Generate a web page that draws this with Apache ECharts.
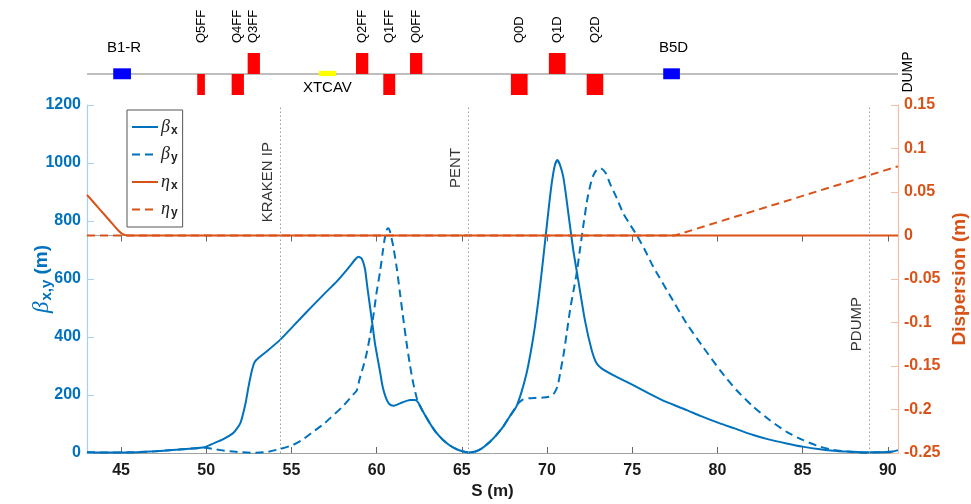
<!DOCTYPE html>
<html>
<head>
<meta charset="utf-8">
<script src="https://cdn.jsdelivr.net/npm/echarts@6/dist/echarts.min.js"></script>
<style>
  html, body { margin: 0; padding: 0; background: #fff; }
  #chart { width: 971px; height: 504px; }
</style>
</head>
<body>
<div id="chart"></div>
<script>
// Beamline coordinate range (m) and tick positions
const S_MIN = 43, S_MAX = 90.6;
const sTicks = [45, 50, 55, 60, 65, 70, 75, 80, 85, 90];

// Horizontal beta function
const betaXS = [43, 44, 45, 46, 47, 48, 49, 49.9, 50.5, 51.0, 51.6, 52.0, 52.3, 52.5, 52.7, 52.85, 53.05, 53.5, 54.33, 55.5, 56.28, 57.0, 57.65, 58.3, 58.75, 58.92, 59.12, 59.31, 59.45, 59.61, 59.77, 59.9, 60.04, 60.2, 60.35, 60.55, 60.74, 60.98, 61.37, 61.96, 62.25, 62.44, 62.7, 63.13, 63.5, 63.9, 64.3, 64.7, 65.1, 65.4, 65.8, 66.2, 66.65, 67.0, 67.43, 67.8, 68.2, 68.5, 68.8, 69.05, 69.29, 69.5, 69.68, 69.85, 69.98, 70.15, 70.3, 70.45, 70.6, 70.75, 70.95, 71.1, 71.25, 71.54, 71.83, 72.22, 72.62, 72.9, 73.2, 74.0, 75.0, 76.0, 77.0, 78.2, 79.0, 80.15, 81.0, 82.1, 83.0, 84.06, 85.0, 86.02, 87.0, 87.6, 88.5, 89.5, 90.2, 90.6];
const betaXV = [3, 2, 2, 3, 6, 10, 15, 20, 35, 48, 70, 103, 170, 235, 290, 315, 327, 348, 390, 462, 510, 553, 591, 635, 668, 677, 671, 637, 574, 505, 436, 378, 332, 280, 229, 189, 169, 163, 171, 183, 183, 174, 145, 102, 70, 45, 26, 13, 5, 2, 5, 17, 39, 60, 91, 125, 160, 210, 275, 350, 436, 530, 620, 710, 780, 870, 940, 990, 1010, 995, 953, 895, 827, 700, 597, 459, 355, 310, 292, 265, 236, 205, 176, 148, 128, 102, 85, 62, 47, 33, 22, 13, 7, 5, 3, 3, 4, 10];

// Vertical beta function
const betaYS = [43, 44, 45, 46, 47, 48, 49, 49.9, 50.5, 51.2, 52.0, 52.8, 53.5, 54.33, 55.1, 55.7, 56.28, 56.9, 57.3, 58.0, 58.6, 58.83, 59.0, 59.2, 59.4, 59.6, 59.8, 60.0, 60.2, 60.35, 60.49, 60.6, 60.68, 60.8, 60.98, 61.2, 61.37, 61.56, 61.76, 61.95, 62.15, 62.38, 62.44, 62.7, 63.13, 63.5, 63.9, 64.3, 64.7, 65.1, 65.4, 65.8, 66.2, 66.65, 67.0, 67.43, 67.8, 68.1, 68.31, 68.55, 68.8, 69.3, 69.78, 70.1, 70.37, 70.55, 70.66, 70.8, 70.95, 71.15, 71.35, 71.55, 71.74, 71.93, 72.12, 72.35, 72.52, 72.7, 72.9, 73.15, 73.45, 73.69, 74.1, 74.47, 74.9, 75.26, 75.7, 76.23, 77.2, 78.19, 79.2, 80.15, 81.1, 82.1, 83.1, 84.06, 85.0, 86.02, 86.8, 87.6, 88.3, 88.95, 89.5, 90.2, 90.6];
const betaYV = [3, 2, 2, 3, 6, 10, 15, 18, 13, 7, 3, 1, 3, 14, 28, 48, 74, 100, 122, 160, 200, 215, 255, 295, 340, 400, 470, 555, 625, 690, 745, 770, 775, 760, 711, 630, 551, 465, 378, 305, 240, 183, 174, 145, 102, 70, 45, 26, 13, 5, 2, 5, 17, 39, 60, 91, 125, 152, 171, 183, 188, 190, 191, 194, 202, 220, 240, 285, 332, 410, 493, 558, 620, 700, 780, 870, 918, 955, 975, 982, 965, 930, 878, 827, 785, 752, 705, 643, 545, 447, 362, 286, 218, 160, 112, 73, 45, 22, 11, 5, 2, 1, 3, 4, 10];

// Dispersion
const etaXS = [43, 43.76, 44.35, 44.84, 45.1, 45.4, 90.6];
const etaXV = [0.0468, 0.0298, 0.0167, 0.0057, 0.0015, 0, 0];
const etaYS = [43, 77.5, 80, 85, 88.95, 90.6];
const etaYV = [0, 0, 0.0152, 0.0455, 0.0695, 0.0795];

// Markers along the line
const refNames = ['KRAKEN IP', 'PENT', 'PDUMP'];
const refS = [54.33, 65.38, 88.91];
const refLabelTop = [1072, 1052, 538];

// Lattice elements
const magnetNames = ['B1-R', 'Q5FF', 'Q4FF', 'Q3FF', 'XTCAV', 'Q2FF', 'Q1FF', 'Q0FF', 'Q0D', 'Q1D', 'Q2D', 'B5D'];
const magnetStart = [44.54, 49.47, 51.49, 52.43, 56.61, 58.79, 60.39, 61.96, 67.88, 70.11, 72.33, 76.82];
const magnetEnd   = [45.58, 49.92, 52.21, 53.15, 57.61, 59.51, 61.09, 62.68, 68.86, 71.09, 73.30, 77.80];
const magnetKind  = ['dipole', 'quadD', 'quadD', 'quadF', 'tcav', 'quadF', 'quadD', 'quadF', 'quadD', 'quadF', 'quadD', 'dipole'];
const endMarkerName = 'DUMP';

const BLUE = '#0072BD', ORANGE = '#D95319';
const FONT = '"Liberation Sans", Arial, sans-serif';
const SERIF = '"Liberation Serif", "Times New Roman", serif';

const kindStyle = {
  quadF:  { lo: 0,     hi: 1,    color: '#ff0000' },
  quadD:  { lo: -1,    hi: 0,    color: '#ff0000' },
  dipole: { lo: -0.25, hi: 0.27, color: '#0000ff' },
  tcav:   { lo: -0.1,  hi: 0.15, color: '#ffff00' }
};

const zip = (xs, ys) => xs.map((x, i) => [x, ys[i]]);

const chart = echarts.init(document.getElementById('chart'), null, { renderer: 'canvas' });

const legendRich = {
  g: { fontFamily: SERIF, fontStyle: 'italic', fontSize: 18, color: '#222' },
  s: { fontFamily: FONT, fontWeight: 'bold', fontSize: 12, color: '#222', padding: [7, 0, 0, 1] }
};

const option = {
  animation: false,
  backgroundColor: '#fff',
  grid: [
    { left: 87, right: 73, top: 105, bottom: 51, outerBoundsMode: 'none' },
    { left: 87, right: 73, top: 53, height: 42, outerBoundsMode: 'none' }
  ],
  legend: {
    orient: 'vertical',
    left: 127, top: 110,
    itemWidth: 26, itemHeight: 14, itemGap: 9,
    padding: [8, 5, 8, 4],
    borderColor: '#555', borderWidth: 1, borderRadius: 0,
    backgroundColor: '#fff',
    itemStyle: { opacity: 0 },
    data: ['βx', 'βy', 'ηx', 'ηy'],
    formatter: name => `{g|${name[0]}}{s|${name.slice(1)}}`,
    textStyle: { rich: legendRich, padding: [0, 0, 0, -2] }
  },
  xAxis: [
    {
      gridIndex: 0, type: 'value', min: S_MIN, max: S_MAX, position: 'bottom',
      axisLine: { lineStyle: { color: '#a0a0a0', width: 1 } },
      axisTick: { inside: true, length: 6, customValues: sTicks, lineStyle: { color: '#666' } },
      axisLabel: { customValues: sTicks, fontFamily: FONT, fontWeight: 'bold', fontSize: 16, color: '#1a1a1a', margin: 10 },
      splitLine: { show: false },
      name: 'S (m)', nameLocation: 'middle', nameGap: 30, nameMoveOverlap: false,
      nameTextStyle: { fontFamily: FONT, fontWeight: 'bold', fontSize: 17, color: '#1a1a1a' }
    },
    {
      gridIndex: 0, type: 'value', min: S_MIN, max: S_MAX, position: 'top',
      axisLine: { lineStyle: { color: '#a0a0a0', width: 1 } },
      axisTick: { inside: true, length: 6, customValues: sTicks, lineStyle: { color: '#666' } },
      axisLabel: { show: false },
      splitLine: { show: false }
    },
    {
      gridIndex: 1, type: 'value', min: S_MIN, max: S_MAX, show: false
    }
  ],
  yAxis: [
    {
      gridIndex: 0, type: 'value', min: 0, max: 1200, interval: 200, position: 'left',
      axisLine: { show: true, lineStyle: { color: '#a9d0ee', width: 1.2 } },
      axisTick: { show: true, inside: true, length: 7, lineStyle: { color: '#a9d0ee' } },
      axisLabel: { fontFamily: FONT, fontWeight: 'bold', fontSize: 16, color: BLUE, margin: 6, formatter: v => String(v) },
      splitLine: { show: false },
      name: '{g|β}{s|x,y}{m| (m)}', nameLocation: 'middle', nameGap: 33, nameMoveOverlap: false,
      nameTextStyle: {
        color: BLUE,
        rich: {
          g: { fontFamily: SERIF, fontStyle: 'italic', fontSize: 23, color: BLUE },
          s: { fontFamily: FONT, fontWeight: 'bold', fontSize: 15, color: BLUE, padding: [10, 0, 0, 1] },
          m: { fontFamily: FONT, fontWeight: 'bold', fontSize: 19, color: BLUE }
        }
      }
    },
    {
      gridIndex: 0, type: 'value', min: -0.25, max: 0.15, interval: 0.05, position: 'right',
      axisLine: { show: true, lineStyle: { color: '#f3bfa6', width: 1.2 } },
      axisTick: { show: true, inside: true, length: 7, lineStyle: { color: '#f3bfa6' } },
      axisLabel: {
        fontFamily: FONT, fontWeight: 'bold', fontSize: 16, color: ORANGE, margin: 6,
        formatter: v => String(+v.toFixed(2))
      },
      splitLine: { show: false },
      name: 'Dispersion (m)', nameLocation: 'middle', nameGap: 52, nameMoveOverlap: false,
      nameTextStyle: { fontFamily: FONT, fontWeight: 'bold', fontSize: 19, color: ORANGE }
    },
    {
      gridIndex: 1, type: 'value', min: -1, max: 1, show: false
    }
  ],
  series: [
    {
      name: 'βx', type: 'line', xAxisIndex: 0, yAxisIndex: 0,
      data: zip(betaXS, betaXV), showSymbol: false, symbol: 'none', smooth: 0.2,
      lineStyle: { color: BLUE, width: 2 }, itemStyle: { color: BLUE },
      markLine: {
        silent: true, symbol: 'none', label: { show: false },
        lineStyle: { color: '#9a9a9a', width: 1, type: [1.5, 2.5] },
        data: refS.map(s => ({ xAxis: s }))
      },
      z: 2
    },
    {
      name: 'βy', type: 'line', xAxisIndex: 0, yAxisIndex: 0,
      data: zip(betaYS, betaYV), showSymbol: false, symbol: 'none', smooth: 0.2,
      lineStyle: { color: BLUE, width: 2, type: [8, 5] }, itemStyle: { color: BLUE },
      z: 2
    },
    {
      name: 'ηx', type: 'line', xAxisIndex: 0, yAxisIndex: 1,
      data: zip(etaXS, etaXV), showSymbol: false, symbol: 'none', smooth: 0.2,
      lineStyle: { color: ORANGE, width: 2 }, itemStyle: { color: ORANGE },
      z: 3
    },
    {
      name: 'ηy', type: 'line', xAxisIndex: 0, yAxisIndex: 1,
      data: zip(etaYS, etaYV), showSymbol: false, symbol: 'none',
      lineStyle: { color: ORANGE, width: 2, type: [8, 5] }, itemStyle: { color: ORANGE },
      z: 3
    },
    {
      // names of the marker locations, written along the dotted lines
      type: 'scatter', xAxisIndex: 0, yAxisIndex: 0, silent: true,
      symbolSize: 1, itemStyle: { color: 'rgba(0,0,0,0)' },
      data: refNames.map((n, i) => ({ name: n, value: [refS[i], refLabelTop[i]] })),
      label: {
        show: true, position: 'inside', rotate: 90,
        align: 'right', verticalAlign: 'bottom', padding: [0, 0, 5, 0],
        formatter: p => p.name,
        fontFamily: FONT, fontSize: 15, color: '#000'
      },
      z: 4
    },
    {
      // beamline axis
      type: 'line', xAxisIndex: 2, yAxisIndex: 2, silent: true,
      data: [[S_MIN, 0], [S_MAX, 0]], showSymbol: false, symbol: 'none',
      lineStyle: { color: '#a8a8a8', width: 1.5 }, z: 1
    },
    {
      // lattice elements with their names
      type: 'custom', xAxisIndex: 2, yAxisIndex: 2, silent: true,
      data: magnetNames.map((n, i) => {
        const st = kindStyle[magnetKind[i]];
        return { name: n, value: [magnetStart[i], magnetEnd[i], st.lo, st.hi] };
      }),
      renderItem: (params, api) => {
        const i = params.dataIndex;
        const kind = magnetKind[i];
        const name = magnetNames[i];
        const a = api.coord([api.value(0), api.value(3)]);
        const b = api.coord([api.value(1), api.value(2)]);
        const cx = (a[0] + b[0]) / 2;
        const lineY = api.coord([api.value(0), 0])[1];
        const topY = api.coord([api.value(0), 1])[1];
        const children = [{
          type: 'rect',
          shape: { x: a[0], y: a[1], width: b[0] - a[0], height: b[1] - a[1] },
          style: { fill: kindStyle[kind].color }
        }];
        if (kind === 'quadF' || kind === 'quadD') {
          children.push({
            type: 'text', x: cx, y: topY - 10, rotation: Math.PI / 2,
            style: { text: name, fill: '#000', font: '13px ' + FONT, align: 'left', verticalAlign: 'middle' }
          });
        } else if (kind === 'dipole') {
          children.push({
            type: 'text', x: cx + 2, y: lineY - 26,
            style: { text: name, fill: '#000', font: '15px ' + FONT, align: 'center', verticalAlign: 'middle' }
          });
        } else {
          children.push({
            type: 'text', x: cx, y: lineY + 14,
            style: { text: name, fill: '#000', font: '15px ' + FONT, align: 'center', verticalAlign: 'middle' }
          });
        }
        return { type: 'group', children };
      },
      z: 3
    },
    {
      // end-of-line label
      type: 'custom', xAxisIndex: 2, yAxisIndex: 2, silent: true,
      data: [{ name: endMarkerName, value: [S_MAX, 0] }],
      renderItem: (params, api) => {
        const p = api.coord([api.value(0), api.value(1)]);
        return {
          type: 'text', x: p[0] + 10, y: p[1] - 2, rotation: Math.PI / 2,
          style: { text: endMarkerName, fill: '#000', font: '14px ' + FONT, align: 'center', verticalAlign: 'middle' }
        };
      },
      z: 3
    }
  ]
};

chart.setOption(option);
</script>
</body>
</html>
